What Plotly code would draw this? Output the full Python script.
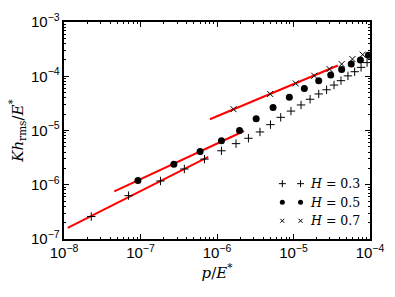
import numpy as np
import plotly.graph_objects as go

# ---- data (log10 values) ----
h03_logx = [-7.644, -7.156, -6.739, -6.427, -6.164, -5.942, -5.751, -5.589, -5.438, -5.301,
            -5.167, -5.033, -4.901, -4.783, -4.670, -4.567, -4.470, -4.379, -4.288, -4.200,
            -4.116, -4.038]
h03_logy = [-6.586, -6.201, -5.931, -5.710, -5.528, -5.374, -5.242, -5.143, -5.027, -4.892,
            -4.757, -4.642, -4.529, -4.424, -4.326, -4.249, -4.162, -4.081, -3.993, -3.916,
            -3.836, -3.748]

h05_logx = [-7.034, -6.564, -6.221, -5.942, -5.705, -5.488, -5.267, -5.054, -4.858, -4.670,
            -4.513, -4.370, -4.245, -4.125, -4.020]
h05_logy = [-5.920, -5.623, -5.388, -5.190, -5.002, -4.782, -4.577, -4.389, -4.226, -4.081,
            -3.976, -3.876, -3.776, -3.701, -3.613]

h07_logx = [-5.784, -5.305, -4.971, -4.729, -4.529, -4.370, -4.229, -4.095]
h07_logy = [-4.607, -4.326, -4.133, -3.990, -3.867, -3.776, -3.683, -3.601]

# red fit lines: endpoints (log10)
fit03_logx = [-7.952, -6.114]
fit03_logy = [-6.796, -5.488]
fit05_logx = [-7.343, -5.646]
fit05_logy = [-6.124, -5.009]
fit07_logx = [-6.093, -4.420]
fit07_logy = [-4.792, -3.801]

legend_labels = ["<i>H</i> = 0.3", "<i>H</i> = 0.5", "<i>H</i> = 0.7"]

p = lambda a: (10.0 ** np.array(a)).tolist()

fig = go.Figure()

# fit lines
for fx, fy in [(fit03_logx, fit03_logy), (fit05_logx, fit05_logy), (fit07_logx, fit07_logy)]:
    fig.add_trace(go.Scatter(x=p(fx), y=p(fy), mode="lines",
                             line=dict(color="#ff0000", width=2), showlegend=False,
                             hoverinfo="skip"))

fig.add_trace(go.Scatter(x=p(h03_logx), y=p(h03_logy), mode="markers",
                         marker=dict(symbol="cross-thin", size=6, line=dict(color="black", width=1)),
                         showlegend=False))
fig.add_trace(go.Scatter(x=p(h05_logx), y=p(h05_logy), mode="markers",
                         marker=dict(symbol="circle", size=7, color="black"),
                         showlegend=False))
fig.add_trace(go.Scatter(x=p(h07_logx), y=p(h07_logy), mode="markers",
                         marker=dict(symbol="x-thin", size=6, line=dict(color="black", width=1)),
                         showlegend=False))

# custom legend (two markers per entry, like matplotlib)
leg_x = [0.7135, 0.773]
leg_y = [0.255, 0.169, 0.084]
leg_syms = [("cross-thin", 5, 1), ("circle", 5, 0), ("x-thin", 4, 1)]
for (sym, sz, lw), yy in zip(leg_syms, leg_y):
    mk = dict(symbol=sym, size=sz, color="black")
    if lw:
        mk["line"] = dict(color="black", width=lw)
    fig.add_trace(go.Scatter(x=leg_x, y=[yy, yy], mode="markers", marker=mk,
                             xaxis="x2", yaxis="y2", showlegend=False, hoverinfo="skip"))
for lab, yy in zip(legend_labels, leg_y):
    fig.add_annotation(x=0.797, y=yy, xref="paper", yref="paper", text=lab,
                       showarrow=False, xanchor="left", yanchor="middle",
                       font=dict(family="DejaVu Serif", size=12.5, color="black"))

axis_common = dict(
    type="log", dtick=1, exponentformat="power", showgrid=False, zeroline=False,
    ticks="inside", ticklen=5, tickwidth=1, tickcolor="black",
    showline=True, linewidth=1.8, linecolor="black", mirror="allticks",
    minor=dict(ticks="inside", ticklen=2.5, tickwidth=0.8, tickcolor="black", showgrid=False),
    tickfont=dict(family="Liberation Sans", size=12, color="black"),
    ticklabeloverflow="allow",
)

fig.update_layout(
    width=395, height=297,
    margin=dict(l=63.5, r=11.7, t=11, b=57.7),
    paper_bgcolor="white", plot_bgcolor="white",
    xaxis=dict(range=[-8.0005, -3.9995], title=dict(text="<i>p</i>/<i>E</i><sup>*</sup>",
               font=dict(family="DejaVu Serif", size=15, color="black"), standoff=2),
               **axis_common),
    yaxis=dict(range=[-7.0005, -2.9995], title=dict(text="<i>Kh</i><sub>rms</sub>/<i>E</i><sup>*</sup>",
               font=dict(family="DejaVu Serif", size=15, color="black"), standoff=4),
               **axis_common),
    xaxis2=dict(range=[0, 1], overlaying="x", visible=False, domain=[0, 1], anchor="y2"),
    yaxis2=dict(range=[0, 1], overlaying="y", visible=False, anchor="x2"),
    showlegend=False,
)

fig.write_html("out.html", config={"displayModeBar": False},
               post_script="document.body.style.margin='0';document.body.style.overflow='hidden';")
